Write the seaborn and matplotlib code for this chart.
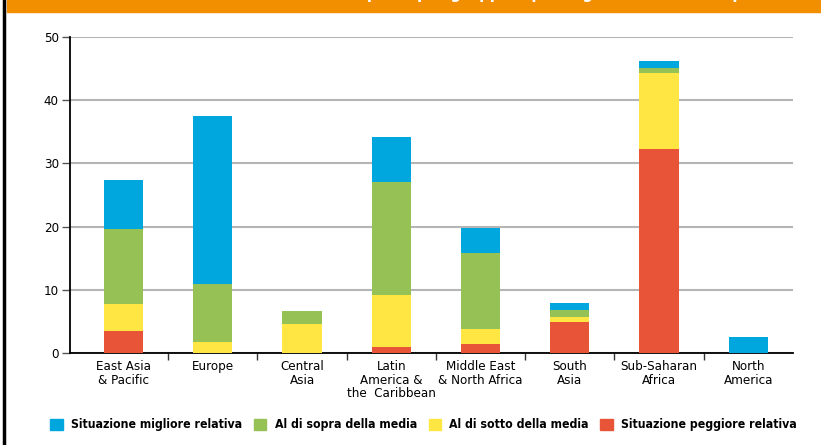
import matplotlib
matplotlib.use("Agg")
import matplotlib.pyplot as plt
from matplotlib.patches import Rectangle
from matplotlib.lines import Line2D
import numpy as np
import pandas as pd
import seaborn as sns

REGIONS = ["East Asia\n& Pacific", "Europe", "Central\nAsia",
           "Latin\nAmerica &\nthe  Caribbean", "Middle East\n& North Africa",
           "South\nAsia", "Sub-Saharan\nAfrica", "North\nAmerica"]
SERIES = ["Situazione migliore relativa", "Al di sopra della media",
          "Al di sotto della media", "Situazione peggiore relativa"]
peggiore = [3.6, 0.0, 0.0, 1.0, 1.4, 5.0, 32.2, 0.0]
sotto = [4.2, 1.8, 4.6, 8.2, 2.4, 0.8, 12.1, 0.0]
sopra = [11.9, 9.2, 2.1, 17.9, 12.1, 1.1, 0.7, 0.0]
migliore = [7.6, 26.5, 0.0, 7.0, 3.9, 1.1, 1.2, 2.6]
COLORS = ["#00a6de", "#96c155", "#ffe643", "#e85437"]
TITLE = "Distribuzione dei paesi per gruppo e per regione (numero di paesi)"

sns.set_theme(style="white")
plt.rcParams["font.family"] = ["DejaVu Sans"]
plt.rcParams["font.stretch"] = "condensed"
plt.rcParams["text.color"] = "black"
plt.rcParams["xtick.labelcolor"] = "black"
plt.rcParams["ytick.labelcolor"] = "black"


def main():
    df = pd.DataFrame({"region": REGIONS, "peggiore": peggiore, "sotto": sotto,
                       "sopra": sopra, "migliore": migliore})
    # cumulative heights, drawn tallest first so the segments stack
    df["c1"] = df["peggiore"]
    df["c2"] = df["c1"] + df["sotto"]
    df["c3"] = df["c2"] + df["sopra"]
    df["c4"] = df["c3"] + df["migliore"]

    fig = plt.figure(figsize=(8.21, 4.45), dpi=100)
    ax = fig.add_axes([70 / 821, 1 - 353.3 / 445, 723 / 821, 316.6 / 445])

    for col, color in zip(["c4", "c3", "c2", "c1"], COLORS):
        sns.barplot(data=df, x="region", y=col, color=color, width=0.44,
                    saturation=1, linewidth=0, ax=ax, zorder=3)

    ax.set_xlim(-0.6, 7.5)
    ax.set_ylim(0, 50)
    ax.set_yticks(range(0, 51, 10))
    ax.set_xlabel("")
    ax.set_ylabel("")
    ax.yaxis.grid(True, color="#b5b5b5", linewidth=1.5, zorder=0)
    ax.set_axisbelow(True)
    for s in ["top", "right"]:
        ax.spines[s].set_visible(False)
    for s in ["left", "bottom"]:
        ax.spines[s].set_color("black")
        ax.spines[s].set_linewidth(1.3)
    ax.tick_params(axis="y", length=6, width=1, color="#555555", left=True,
                   labelsize=9.5, pad=2)
    ax.tick_params(axis="x", which="major", length=0, labelsize=9.5, pad=5)
    ax.set_xticks(np.arange(0.5, 7.5, 1), minor=True)
    ax.tick_params(axis="x", which="minor", length=5, width=1, color="#333333",
                   bottom=True)
    for lab in ax.get_xticklabels():
        lab.set_linespacing(1.05)
        lab.set_va("top")

    # banner and left border
    fig.patches.append(Rectangle((7 / 821, 1 - 12 / 445), 1, 12 / 445,
                                 transform=fig.transFigure, color="#f18f00",
                                 zorder=0))
    fig.lines.append(Line2D([4 / 821, 4 / 821], [0, 1], transform=fig.transFigure,
                            color="black", linewidth=2.5))
    fig.text(0.61, 1 + 2.5 / 445, TITLE, ha="center", va="baseline",
             color="white", fontsize=12, fontweight="bold")

    handles = [Rectangle((0, 0), 1, 1, color=c) for c in COLORS]
    fig.legend(handles, SERIES, loc="center", bbox_to_anchor=(0.516, 0.045),
               ncol=4, frameon=False, handlelength=1.0, handleheight=1.0,
               handletextpad=0.7, columnspacing=0.95,
               prop={"size": 8.8, "weight": "bold", "stretch": "condensed"})

    fig.savefig("out.png", dpi=100)


if __name__ == "__main__":
    main()
